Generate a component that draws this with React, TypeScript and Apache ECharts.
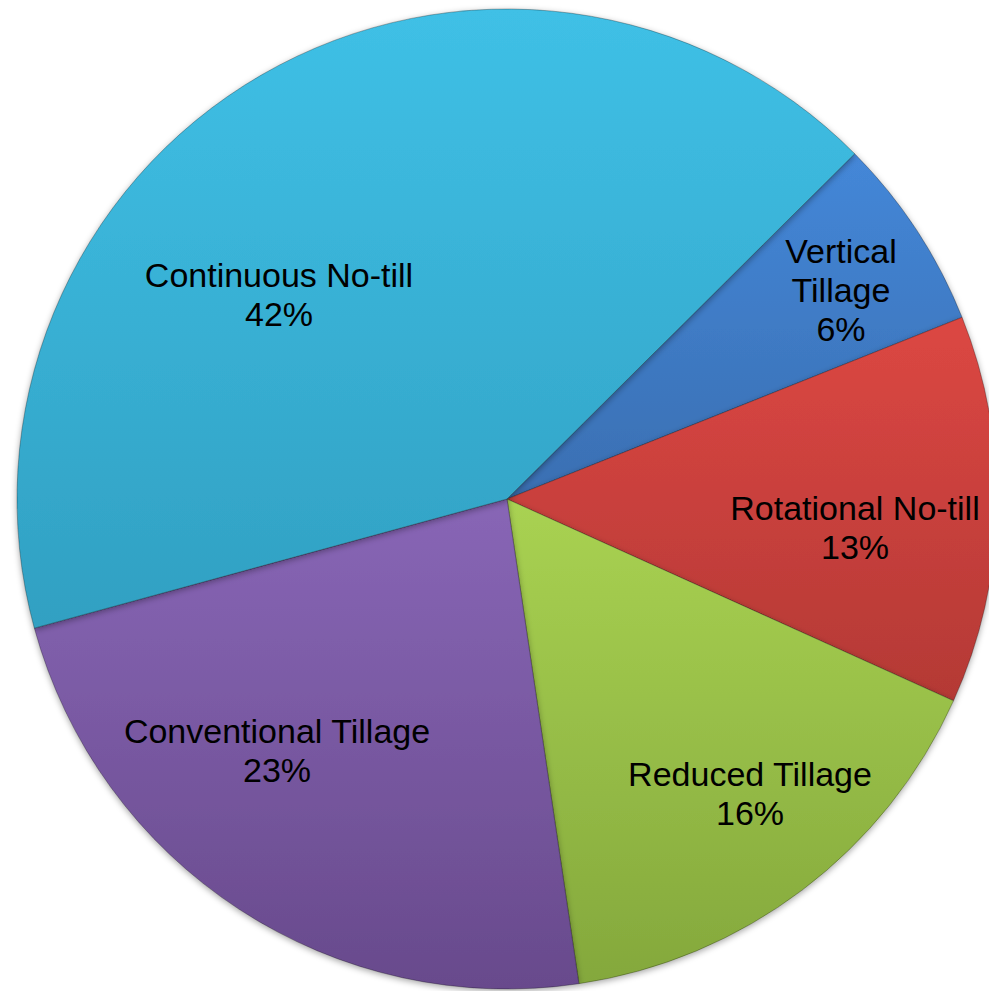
import React, { useEffect, useRef } from "react";
import * as echarts from "echarts";

// Data (clockwise from the upper right)
const categories = [
  "Vertical Tillage",
  "Rotational No-till",
  "Reduced Tillage",
  "Conventional Tillage",
  "Continuous No-till",
];
// Slice sizes (labels round them to 6/13/16/23/42 %)
const shares = [6.4, 12.8, 15.9, 23.1, 41.8];
const labelNames = [
  "Vertical\nTillage",
  "Rotational No-till",
  "Reduced Tillage",
  "Conventional Tillage",
  "Continuous No-till",
];

// Styles / layout
const topColors = ["#4487D8", "#DC4743", "#A9D252", "#8866B6", "#3FC0E6"];
const bottomColors = ["#3A6FB2", "#B43935", "#84A83C", "#684A8C", "#31A0C2"];
const labelCenters: [number, number][] = [
  [841, 290],
  [855, 527],
  [750, 793],
  [277, 750],
  [279, 294],
];

export default function App() {
  const ref = useRef<HTMLDivElement>(null);
  useEffect(() => {
    if (!ref.current) return;
    const chart = echarts.init(ref.current, null, { renderer: "svg" });
    const data = categories.map((name, i) => ({
      name,
      value: shares[i],
      itemStyle: {
        color: new echarts.graphic.LinearGradient(0, 0, 0, 1, [
          { offset: 0, color: topColors[i] },
          { offset: 1, color: bottomColors[i] },
        ]),
      },
    }));
    chart.setOption({
      animation: false,
      backgroundColor: "#ffffff",
      series: [
        {
          type: "pie",
          center: [507, 499],
          radius: [0, 490],
          startAngle: 44.8,
          clockwise: true,
          percentPrecision: 0,
          avoidLabelOverlap: false,
          data,
          itemStyle: {
            borderColor: "rgba(0,0,0,0.28)",
            borderWidth: 1,
            shadowBlur: 6,
            shadowOffsetY: 2,
            shadowColor: "rgba(0,0,0,0.35)",
          },
          label: {
            show: true,
            position: "inside",
            color: "#000000",
            fontFamily: "'Liberation Sans', Arial, sans-serif",
            fontSize: 34,
            lineHeight: 39,
            align: "center",
            formatter: (p: any) => `${labelNames[p.dataIndex]}\n${p.percent}%`,
          },
          labelLine: { show: false },
          labelLayout: (p: any) => ({
            x: labelCenters[p.dataIndex][0],
            y: labelCenters[p.dataIndex][1],
            align: "center",
            verticalAlign: "middle",
          }),
          emphasis: { disabled: true },
        },
      ],
    });
    return () => chart.dispose();
  }, []);
  return (
    <div
      ref={ref}
      style={{ position: "fixed", left: 0, top: 0, width: 989, height: 991, background: "#fff" }}
    />
  );
}
